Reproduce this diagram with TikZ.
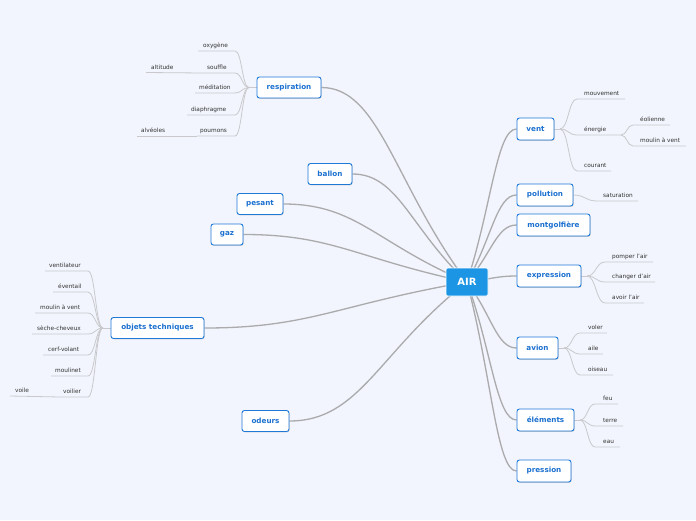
\documentclass[tikz,border=0pt]{standalone}
\usepackage{fontspec}
\setmainfont{DejaVu Sans}
\usetikzlibrary{calc,shadows}
\definecolor{bgc}{HTML}{F2F5FD}
\definecolor{nodeb}{HTML}{2079D6}
\definecolor{textb}{HTML}{1B70D0}
\definecolor{airf}{HTML}{1C95E5}
\definecolor{trunkc}{HTML}{ABABAD}
\definecolor{leafc}{HTML}{C9C9CD}
\definecolor{leaft}{HTML}{333333}
\pgfdeclarelayer{back}\pgfdeclarelayer{lines}\pgfsetlayers{back,lines,main}
\tikzset{
 mainnode/.style={draw=nodeb, line width=0.9pt, fill=white, rounded corners=2.5pt, text=textb,
   font=\bfseries\fontsize{7.2}{8}\selectfont, minimum height=21pt, inner sep=0pt,
   drop shadow={shadow xshift=0.6pt, shadow yshift=-0.8pt, fill=black!30, opacity=.6}},
 airnode/.style={fill=airf, draw=white, line width=0.6pt, rounded corners=2pt, text=white,
   font=\bfseries\fontsize{10}{12}\selectfont, minimum width=42pt, minimum height=28pt, inner sep=0pt},
 leaftext/.style={text=leaft, font=\fontsize{5.8}{7}\selectfont, inner sep=0pt},
 leafline/.style={draw=leafc, line width=0.8pt},
 trunk/.style={draw=trunkc, line width=1.3pt}
}
\newcommand\leaf[7]{%
 \coordinate (#1c) at (#3,#5); \coordinate (#1f) at (#4,#5);
 \coordinate (#1m) at ($(#2)!0.5!(#1c)$);
 \node[leaftext,anchor=base west] (#1) at (#6,#5-3.5) {#7};
 \begin{pgfonlayer}{lines}\draw[leafline] (#2) .. controls (#1m |- #2) and (#1m |- #1c) .. (#1c) -- (#1f);\end{pgfonlayer}}
\newcommand\trunkL[1]{\begin{pgfonlayer}{lines}\draw[trunk] (#1.east) .. controls ($(#1.east)!0.4!(#1.east -| AIR)$) and ($(AIR.center)!0.5!(#1.east)$) .. (AIR.center);\end{pgfonlayer}}
\newcommand\trunkR[1]{\begin{pgfonlayer}{lines}\draw[trunk] (AIR.center) .. controls ($(AIR.center)!0.5!(#1.west)$) and ($(#1.west)!0.4!(#1.west -| AIR)$) .. (#1.west);\end{pgfonlayer}}
\begin{document}
\begin{tikzpicture}[x=1pt,y=-1pt]
\begin{pgfonlayer}{back}
\fill[bgc] (0,0) rectangle (696,520);
\end{pgfonlayer}
\useasboundingbox (0,0) rectangle (696,520);

% central node
\node[airnode] (AIR) at (467,282) {AIR};

% main nodes
\node[mainnode, minimum width=64pt] (respiration) at (289,87.5) {respiration};
\node[mainnode, minimum width=44pt] (ballon) at (330,174) {ballon};
\node[mainnode, minimum width=46pt] (pesant) at (260,204) {pesant};
\node[mainnode, minimum width=32pt] (gaz) at (227,234.5) {gaz};
\node[mainnode, minimum width=93pt] (objets) at (157.5,328) {objets techniques};
\node[mainnode, minimum width=47pt] (odeurs) at (265.5,421) {odeurs};
\node[mainnode, minimum width=37pt, minimum height=22pt] (vent) at (535.5,129) {vent};
\node[mainnode, minimum width=56pt, minimum height=22pt] (pollution) at (545,195) {pollution};
\node[mainnode, minimum width=73pt, minimum height=22pt] (montgolfiere) at (553.5,225) {montgolfière};
\node[mainnode, minimum width=64pt, minimum height=22pt] (expression) at (549,276) {expression};
\node[mainnode, minimum width=41pt, minimum height=22pt] (avion) at (537.5,348) {avion};
\node[mainnode, minimum width=57pt, minimum height=22pt] (elements) at (545.5,420) {éléments};
\node[mainnode, minimum width=54pt, minimum height=22pt] (pression) at (544,471) {pression};

% trunk connectors
\trunkL{respiration}
\trunkL{ballon}
\trunkL{pesant}
\trunkL{gaz}
\trunkL{objets}
\trunkL{odeurs}
\trunkR{vent}
\trunkR{pollution}
\trunkR{montgolfiere}
\trunkR{expression}
\trunkR{avion}
\trunkR{elements}
\trunkR{pression}

% respiration
\coordinate (rb) at (249,87.5);
\begin{pgfonlayer}{lines}\draw[leafline] (respiration.west) -- (rb);\end{pgfonlayer}
\leaf{oxy}{rb}{235}{198}{51}{203}{oxygène}
\leaf{sou}{rb}{235}{203}{73}{207}{souffle}
\leaf{med}{rb}{235}{195}{93}{199}{méditation}
\leaf{dia}{rb}{235}{187}{115}{191}{diaphragme}
\leaf{pou}{rb}{235}{197}{136}{200}{poumons}
\coordinate (altf) at (146,72.5);
\node[leaftext,anchor=base west] (alt) at (151,69) {altitude};
\coordinate (alvf) at (137,136);
\node[leaftext,anchor=base west] (alv) at (141,132.5) {alvéoles};
\begin{pgfonlayer}{lines}
\draw[leafline] (souf) -- (altf);
\draw[leafline] (pouf) -- (alvf);
\end{pgfonlayer}

% objets techniques
\coordinate (ob) at (103,328);
\begin{pgfonlayer}{lines}\draw[leafline] (objets.west) -- (ob);\end{pgfonlayer}
\leaf{ven}{ob}{88}{45}{271}{49}{ventilateur}
\leaf{eve}{ob}{88}{53}{292}{58}{éventail}
\leaf{mav}{ob}{88}{35}{313}{40}{moulin à vent}
\leaf{sec}{ob}{88}{32}{334}{37}{sèche-cheveux}
\leaf{cer}{ob}{88}{43}{355}{48}{cerf-volant}
\leaf{mou}{ob}{88}{51}{376}{55}{moulinet}
\leaf{voi}{ob}{88}{60}{397}{63}{voilier}
\coordinate (voef) at (10,396);
\node[leaftext,anchor=base west] (voe) at (15,392.5) {voile};
\begin{pgfonlayer}{lines}\draw[leafline] (voif) -- (voef);\end{pgfonlayer}

% vent
\coordinate (vb) at (560,129);
\begin{pgfonlayer}{lines}\draw[leafline] (vent.east) -- (vb);\end{pgfonlayer}
\leaf{mvt}{vb}{577}{625}{99}{584}{mouvement}
\leaf{ene}{vb}{577}{621}{135}{584}{énergie}
\leaf{cou}{vb}{577}{611}{171}{584}{courant}
\leaf{eol}{enef}{633}{670}{125}{640}{éolienne}
\leaf{mv2}{enef}{633}{686}{146}{640}{moulin à vent}

% pollution
\leaf{sat}{pollution.east}{597}{638}{201}{603}{saturation}

% expression
\coordinate (eb) at (587,276);
\begin{pgfonlayer}{lines}\draw[leafline] (expression.east) -- (eb);\end{pgfonlayer}
\leaf{pom}{eb}{605}{653}{262}{612}{pomper l'air}
\leaf{cha}{eb}{605}{655}{282}{612}{changer d'air}
\leaf{avo}{eb}{605}{644}{303}{612}{avoir l'air}

% avion
\coordinate (ab) at (564,348);
\begin{pgfonlayer}{lines}\draw[leafline] (avion.east) -- (ab);\end{pgfonlayer}
\leaf{vol}{ab}{580}{607}{333}{588}{voler}
\leaf{ail}{ab}{580}{603}{354}{588}{aile}
\leaf{ois}{ab}{580}{613}{375}{588}{oiseau}

% elements
\coordinate (elb) at (580,420);
\begin{pgfonlayer}{lines}\draw[leafline] (elements.east) -- (elb);\end{pgfonlayer}
\leaf{feu}{elb}{595}{618}{404}{603}{feu}
\leaf{ter}{elb}{595}{623}{426}{603}{terre}
\leaf{eau}{elb}{595}{620}{447}{603}{eau}
\end{tikzpicture}
\end{document}
